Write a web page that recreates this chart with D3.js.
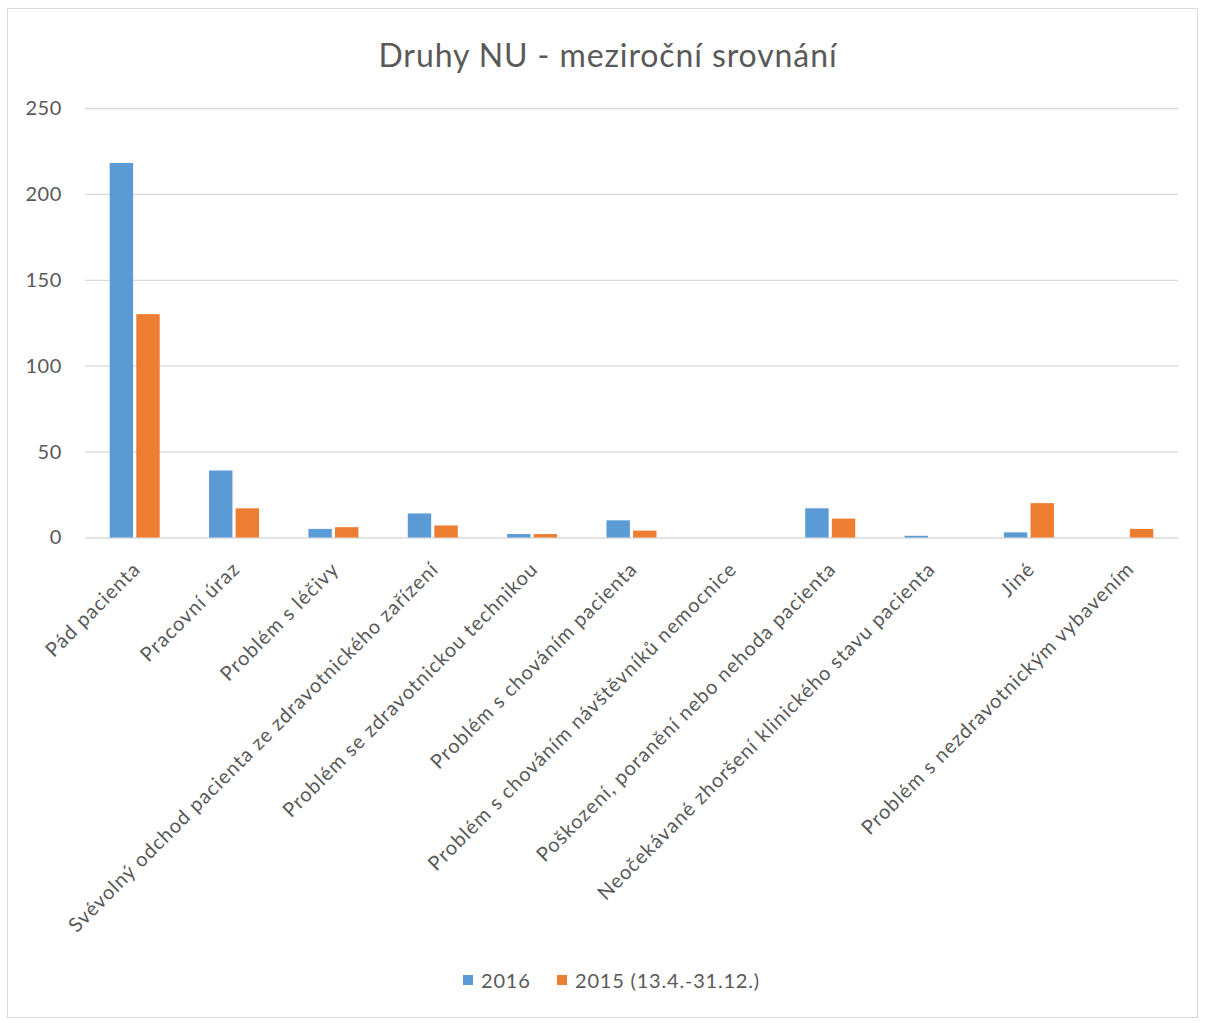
<!DOCTYPE html>
<html>
<head>
<meta charset="utf-8">
<script src="https://cdn.jsdelivr.net/npm/d3@7"></script>
<style>
  html, body { margin: 0; padding: 0; background: #fff; }
  svg { display: block; }
  text { font-family: Lato, "Open Sans", sans-serif; fill: #595959; }
</style>
</head>
<body>
<svg id="chart" width="1208" height="1023"></svg>
<script>
const categories = [
  "Pád pacienta",
  "Pracovní úraz",
  "Problém s léčivy",
  "Svévolný odchod pacienta ze zdravotnického zařízení",
  "Problém se zdravotnickou technikou",
  "Problém s chováním pacienta",
  "Problém s chováním návštěvníků nemocnice",
  "Poškození, poranění nebo nehoda pacienta",
  "Neočekávané zhoršení klinického stavu pacienta",
  "Jiné",
  "Problém s nezdravotnickým vybavením"
];
const series2016 = [218, 39, 5, 14, 2, 10, 0, 17, 1, 3, 0];
const series2015 = [130, 17, 6, 7, 2, 4, 0, 11, 0, 20, 5];
const seriesNames = ["2016", "2015 (13.4.-31.12.)"];
const seriesColors = ["#5B9BD5", "#ED7D31"];
const yTicks = [0, 50, 100, 150, 200, 250];
const title = "Druhy NU - meziroční srovnání";

const svg = d3.select("#chart");
const plot = { left: 85, right: 1178, top: 108, bottom: 537.5 };

// outer frame
svg.append("rect")
  .attr("x", 7.5).attr("y", 8.5)
  .attr("width", 1190).attr("height", 1009)
  .attr("fill", "#fff").attr("stroke", "#D9D9D9").attr("stroke-width", 1);

// title
svg.append("text")
  .attr("x", 608).attr("y", 67)
  .attr("text-anchor", "middle")
  .style("font-size", "32px")
  .style("letter-spacing", "0.9px")
  .text(title);

const x = d3.scaleBand().domain(categories).range([plot.left, plot.right]).padding(0);
const y = d3.scaleLinear().domain([0, 250]).range([plot.bottom, plot.top]);

const keys = [0, 1];
const x1 = d3.scaleBand().domain(keys).range([x.bandwidth() / 2 - 25, x.bandwidth() / 2 + 25]).paddingInner(0.12);

// gridlines + y tick labels
const yAxis = d3.axisLeft(y).tickValues(yTicks).tickSize(-(plot.right - plot.left)).tickPadding(23);
const gy = svg.append("g").attr("transform", `translate(${plot.left},0)`).call(yAxis);
gy.select(".domain").remove();
gy.selectAll(".tick line").attr("stroke", "#D9D9D9").attr("stroke-width", 1.3);
gy.selectAll(".tick text").style("font-size", "20px").style("letter-spacing", "0.6px").attr("fill", "#595959");

// bars
const data = categories.map((c, i) => ({ c, v: [series2016[i], series2015[i]] }));
const groups = svg.append("g").selectAll("g").data(data).join("g")
  .attr("transform", d => `translate(${x(d.c)},0)`);
groups.selectAll("rect").data(d => d.v.map((v, k) => ({ v, k }))).join("rect")
  .attr("x", d => x1(d.k))
  .attr("width", x1.bandwidth())
  .attr("y", d => y(d.v))
  .attr("height", d => y(0) - y(d.v))
  .attr("fill", d => seriesColors[d.k]);

// x axis labels
const xAxis = d3.axisBottom(x).tickSize(0).tickPadding(0);
const gx = svg.append("g").attr("transform", `translate(0,${plot.bottom})`).call(xAxis);
gx.select(".domain").remove();
gx.selectAll(".tick text")
  .style("font-size", "20px")
  .style("letter-spacing", "1px")
  .attr("fill", "#595959")
  .attr("text-anchor", "end")
  .attr("x", 0).attr("y", 0).attr("dy", "0.35em")
  .attr("transform", "translate(2,28) rotate(-45)");

// legend
const legend = svg.append("g");
const legendX = [463, 557];
seriesNames.forEach((n, k) => {
  legend.append("rect").attr("x", legendX[k]).attr("y", 975).attr("width", 10).attr("height", 10).attr("fill", seriesColors[k]);
  legend.append("text").attr("x", legendX[k] + 18).attr("y", 988)
    .style("font-size", "20px").style("letter-spacing", "0.8px").text(n);
});
</script>
</body>
</html>
